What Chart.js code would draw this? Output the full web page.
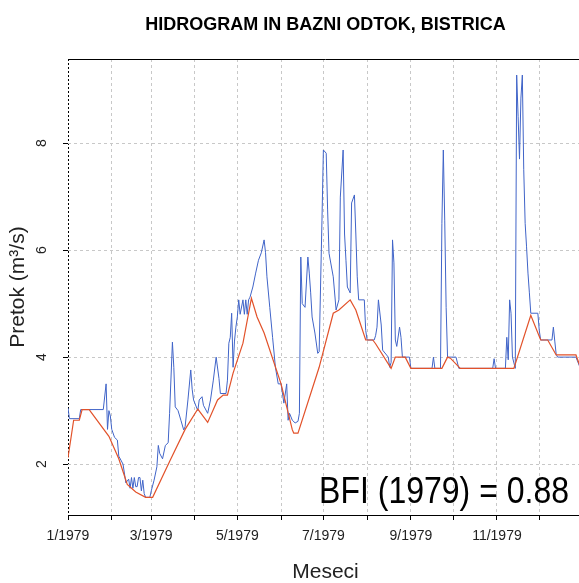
<!DOCTYPE html>
<html>
<head>
<meta charset="utf-8">
<script src="https://cdn.jsdelivr.net/npm/chart.js@4.4.0/dist/chart.umd.min.js"></script>
<style>
  html, body { margin: 0; padding: 0; background: #fff; overflow: hidden; }
  #wrap { width: 583px; height: 583px; }
</style>
</head>
<body>
<div id="wrap"><canvas id="chart" width="583" height="583"></canvas></div>
<script>
const flowDays = [0, 1, 8, 9, 25, 27, 28, 29, 30, 31, 33, 35, 36, 39, 41, 43, 44, 45, 46, 47, 48, 49, 50, 51, 52, 53, 54, 55, 58, 59,
  61, 63, 64, 65, 67, 69, 71, 72, 74, 75, 76, 78, 80, 82, 83, 85, 87, 88, 89, 92, 93, 95, 96, 99, 101, 103, 105, 107, 108, 112,
  113, 114, 115, 116, 117, 118, 119, 120, 121, 122, 124, 125, 126, 127, 128, 129, 131, 133, 135, 137, 139, 140, 141, 143, 145, 147, 149, 151, 153, 155,
  156, 157, 159, 161, 163, 164, 165, 166, 168, 170, 171, 172, 173, 175, 177, 178, 180, 181, 183, 184, 185, 188, 190, 192, 193, 195, 196, 197, 198, 200,
  201, 203, 204, 205, 206, 210, 211, 212, 217, 218, 219, 220, 222, 223, 227, 228, 229, 230, 231, 232, 233, 235, 236, 237, 242, 243, 258, 259, 260, 264,
  265, 266, 267, 268, 269, 275, 277, 301, 302, 303, 310, 311, 312, 313, 314, 315, 317, 318, 319, 320, 321, 322, 323, 324, 325, 326, 327, 328, 333, 334,
  335, 343, 344, 345, 346, 347, 360, 363, 364];
const flowValues = [3.05, 2.85, 2.85, 3.02, 3.02, 3.5, 2.65, 3.0, 2.9, 2.65, 2.5, 2.45, 2.15, 2.0, 1.65, 1.72, 1.55, 1.75, 1.55, 1.75, 1.58, 1.58, 1.75, 1.75, 1.5, 1.7, 1.45, 1.38, 1.38, 1.5,
  1.7, 1.95, 2.35, 2.2, 2.1, 2.35, 2.4, 2.95, 4.28, 3.81, 3.07, 3.0, 2.82, 2.64, 2.7, 3.2, 3.76, 3.4, 3.2, 3.0, 3.2, 3.26, 3.1, 2.95, 3.2, 3.57, 4.0, 3.6, 3.32, 3.32,
  3.57, 4.26, 4.37, 4.82, 3.81, 4.3, 4.56, 4.75, 5.07, 4.8, 5.07, 4.8, 5.07, 4.8, 5.07, 5.12, 5.31, 5.57, 5.81, 5.95, 6.19, 5.95, 5.5, 4.93, 4.37, 3.81, 3.5, 3.5, 3.14, 3.5,
  2.82, 2.95, 2.82, 2.77, 2.8, 2.95, 5.87, 5.0, 4.93, 5.87, 5.57, 5.2, 4.75, 4.45, 4.07, 4.1, 6.56, 7.87, 7.81, 6.75, 5.94, 5.5, 4.88, 5.07, 6.99, 7.87, 6.3, 5.81, 5.31, 5.2,
  6.88, 7.03, 6.3, 5.5, 5.07, 5.07, 4.5, 4.32, 4.32, 4.4, 4.56, 5.07, 4.6, 4.13, 4.0, 3.81, 3.9, 6.19, 5.76, 4.32, 4.2, 4.56, 4.37, 4.0, 4.0, 3.79, 3.79, 4.0, 3.79, 3.79,
  6.5, 7.87, 6.56, 4.93, 4.0, 4.0, 3.79, 3.79, 3.97, 3.79, 3.79, 4.37, 3.95, 5.07, 4.82, 4.0, 3.79, 9.27, 8.5, 7.7, 8.84, 9.27, 7.5, 6.5, 6.06, 5.57, 5.2, 4.82, 4.82, 4.5,
  4.32, 4.32, 4.56, 4.3, 4.05, 4.0, 4.0, 3.8, 3.75];

// baseflow separated from the same record
const baseDays = [0, 4, 8, 10, 15, 29, 36, 42, 48, 55, 60, 72, 83, 92, 99, 106, 110, 113, 117, 124, 130, 134, 139, 151, 159, 160, 163, 178, 188, 192,
  200, 204, 211, 216, 218, 229, 232, 239, 243, 265, 269, 271, 278, 316, 328, 335, 340, 346, 360, 364];
const baseValues = [2.12, 2.82, 2.82, 3.02, 3.02, 2.52, 2.1, 1.62, 1.48, 1.38, 1.38, 2.05, 2.65, 3.03, 2.78, 3.2, 3.29, 3.29, 3.7, 4.26, 5.1, 4.75, 4.45, 3.5, 2.64, 2.58, 2.58, 3.81, 4.82, 4.88,
  5.07, 4.88, 4.32, 4.32, 4.25, 3.79, 4.0, 4.0, 3.79, 3.79, 4.0, 3.98, 3.79, 3.79, 4.78, 4.32, 4.32, 4.04, 4.04, 3.75];

const monthStarts = [0, 31, 59, 90, 120, 151, 181, 212, 243, 273, 304, 334];
const monthLabels = ['1/1979', '', '3/1979', '', '5/1979', '', '7/1979', '', '9/1979', '', '11/1979', ''];
const yTicks = [2, 4, 6, 8];
const bfiLabel = 'BFI (1979) = 0.88';

Chart.defaults.font.family = '"Liberation Sans", Arial, sans-serif';

const toPoints = (days, vals) => days.map((d, i) => ({ x: d, y: vals[i] }));

// top frame line and the BFI note
const frameAndNote = {
    id: 'frameAndNote',
    afterDatasetsDraw(chart) {
        const { ctx, chartArea } = chart;
        ctx.save();
        ctx.strokeStyle = '#000';
        ctx.lineWidth = 1;
        ctx.beginPath();
        ctx.moveTo(chartArea.left, chartArea.top + 0.5);
        ctx.lineTo(chartArea.right, chartArea.top + 0.5);
        ctx.stroke();
        ctx.font = '32px "Liberation Sans", Arial, sans-serif';
        ctx.fillStyle = '#000';
        ctx.textAlign = 'right';
        ctx.textBaseline = 'alphabetic';
        ctx.translate(569, 503);
        ctx.scale(1, 1.15);
        ctx.fillText(bfiLabel, 0, 0);
        ctx.restore();
    }
};

new Chart(document.getElementById('chart'), {
    type: 'line',
    data: {
        datasets: [
            {
                label: 'Bazni odtok',
                data: toPoints(baseDays, baseValues),
                borderColor: '#e2522a',
                borderWidth: 1.2,
                pointRadius: 0,
                order: 0
            },
            {
                label: 'Pretok',
                data: toPoints(flowDays, flowValues),
                borderColor: '#4064c8',
                borderWidth: 1,
                pointRadius: 0,
                order: 1
            }
        ]
    },
    options: {
        responsive: false,
        animation: false,
        layout: { padding: 0 },
        elements: { line: { tension: 0 } },
        plugins: {
            legend: { display: false },
            tooltip: { enabled: false },
            title: {
                display: true,
                text: 'HIDROGRAM IN BAZNI ODTOK, BISTRICA',
                fullSize: false,
                color: '#000',
                font: { size: 18, weight: 'bold', lineHeight: 1 },
                padding: { top: 16, bottom: 25 }
            }
        },
        scales: {
            x: {
                type: 'linear',
                min: 0,
                max: 365,
                afterBuildTicks: s => { s.ticks = monthStarts.map(v => ({ value: v })); },
                afterFit: s => { s.height = 68; },
                ticks: {
                    autoSkip: false,
                    maxRotation: 0,
                    padding: 8,
                    color: '#222',
                    font: { size: 14 },
                    callback: (v, i) => monthLabels[i]
                },
                grid: {
                    color: c => c.index === 0 ? '#000' : '#c8c8c8',
                    tickColor: '#000',
                    tickLength: 5,
                    tickBorderDash: []
                },
                border: { display: true, color: '#000', dash: c => c.index === 0 ? [2, 2] : [3, 3] },
                title: {
                    display: true,
                    text: 'Meseci',
                    color: '#222',
                    font: { size: 21, lineHeight: 1 },
                    padding: { top: 0, bottom: 0 }
                }
            },
            y: {
                min: 1.05,
                max: 9.57,
                afterBuildTicks: s => { s.ticks = yTicks.map(v => ({ value: v })); },
                afterFit: s => { s.width = 68; },
                ticks: {
                    minRotation: 90,
                    maxRotation: 90,
                    crossAlign: 'center',
                    padding: 17,
                    color: '#222',
                    font: { size: 14 }
                },
                grid: {
                    color: '#c8c8c8',
                    tickColor: '#000',
                    tickLength: 5,
                    tickBorderDash: []
                },
                border: { display: false, dash: [3, 3] },
                title: {
                    display: true,
                    text: 'Pretok (m³/s)',
                    color: '#222',
                    font: { size: 21, lineHeight: 1 },
                    padding: { top: 8, bottom: 0 }
                }
            }
        }
    },
    plugins: [frameAndNote]
});
</script>
</body>
</html>
